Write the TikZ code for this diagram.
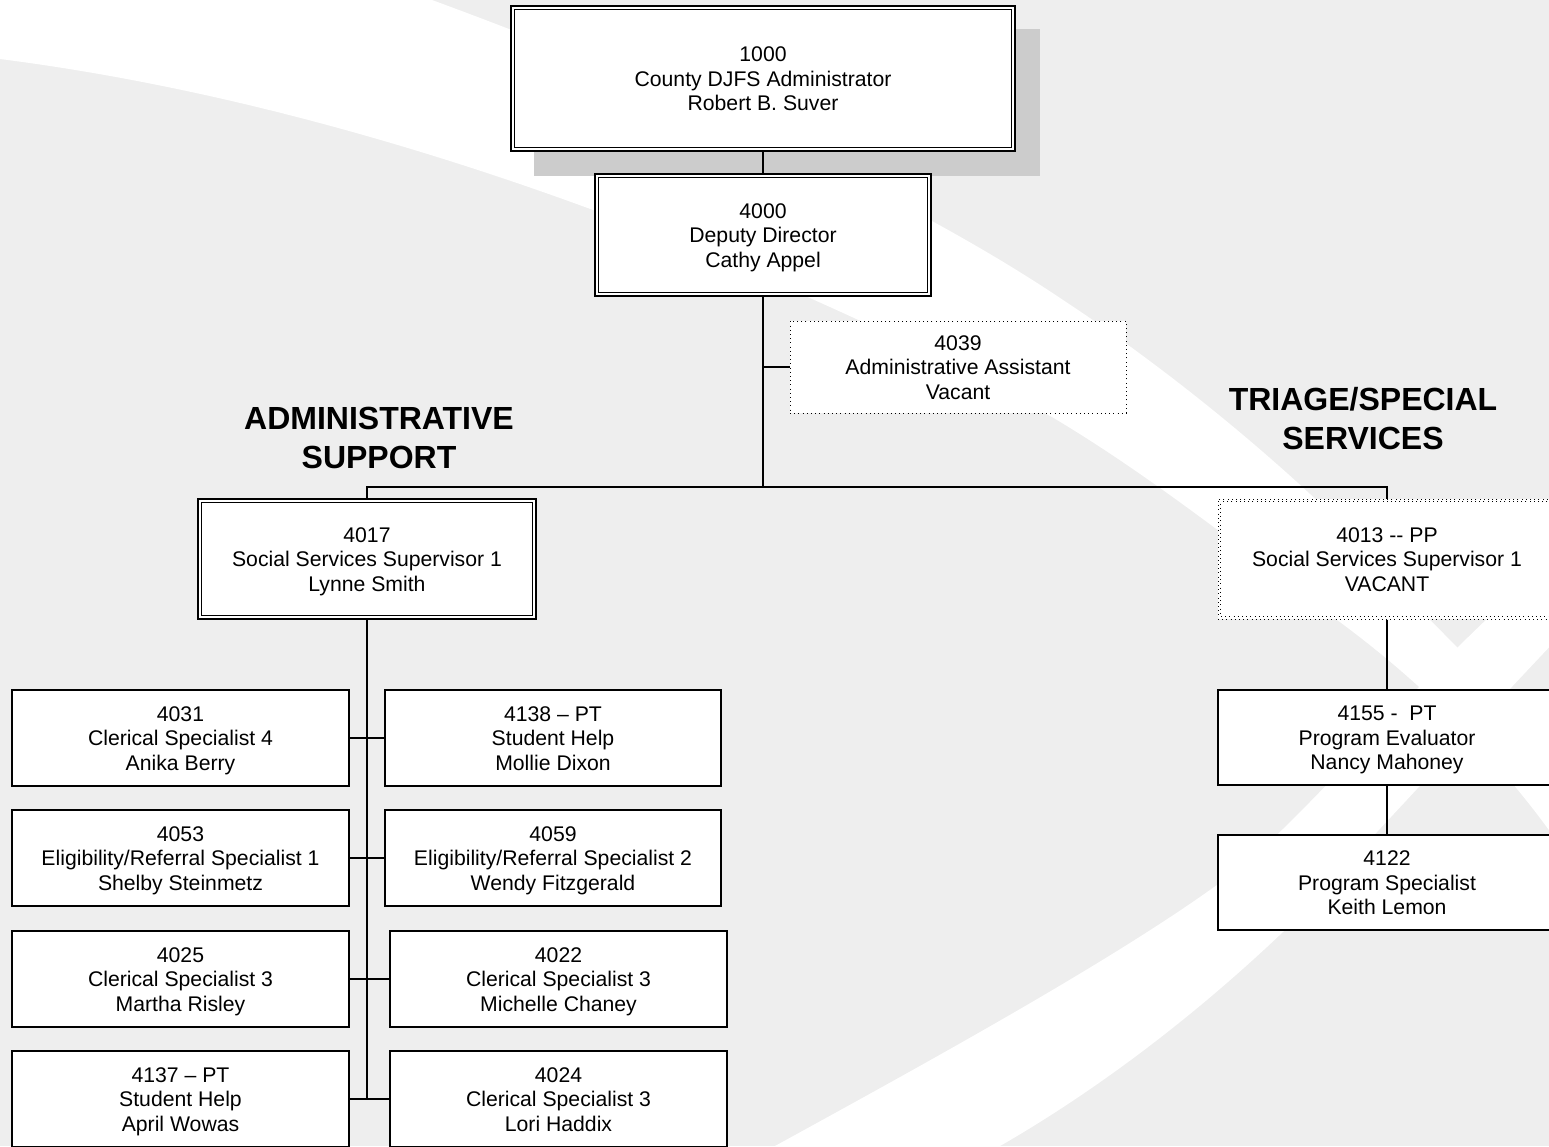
\documentclass[tikz,border=0pt]{standalone}
\usepackage{fontspec}
\setmainfont{Liberation Sans}
\pgfdeclarelayer{bg}
\pgfsetlayers{bg,main}
\definecolor{bggray}{HTML}{EEEEEE}
\definecolor{shadowgray}{HTML}{CCCCCC}
\newcommand\boxfont{\fontsize{21.2pt}{24.5pt}\selectfont}
\newcommand\titlefont{\fontsize{32pt}{39pt}\selectfont\bfseries}
\newcommand\innerframe[1]{\draw[line width=1.2pt] ([shift={(4.5,4.5)}]#1.north west) rectangle ([shift={(-4.5,-4.5)}]#1.south east);}
\newcommand\threelines[3]{\rule{0pt}{20pt}#1\\#2\\#3\rule[-5pt]{0pt}{5pt}}
\tikzset{
  card/.style={draw=black, line width=1.8pt, fill=white, align=center, inner sep=0pt, font=\boxfont},
  dblcard/.style={card, line width=2.2pt},
  dotcard/.style={card, line width=1pt, dash pattern=on 1pt off 3.2pt},
  conn/.style={draw=black, line width=1.7pt},
  title/.style={align=center, inner sep=0pt, font=\titlefont},
}
\begin{document}
\begin{tikzpicture}[x=1pt,y=-1pt]
\useasboundingbox (0,0) rectangle (1549,1146);

% --- nodes ---
\node[dblcard, minimum width=504pt, minimum height=145pt] (n1000) at (763,78.5) {\threelines{1000}{County DJFS Administrator}{Robert B. Suver}};
\innerframe{n1000}
\node[dblcard, minimum width=336pt, minimum height=122pt] (n4000) at (763,235) {\threelines{4000}{Deputy Director}{Cathy Appel}};
\innerframe{n4000}
\node[dotcard, minimum width=336pt, minimum height=92pt] (n4039) at (958,367) {\threelines{4039}{Administrative Assistant}{Vacant}};

\node[title] (tadmin) at (379,437.5) {ADMINISTRATIVE\\SUPPORT};
\node[title] (ttriage) at (1363,419) {TRIAGE/SPECIAL\\SERVICES};

\node[dblcard, minimum width=338pt, minimum height=120pt] (n4017) at (367,559) {\threelines{4017}{Social Services Supervisor 1}{Lynne Smith}};
\innerframe{n4017}
\node[dotcard, minimum width=338pt, minimum height=120pt] (n4013) at (1387,559) {\threelines{4013 -{}- PP}{Social Services Supervisor 1}{VACANT}};
\draw[line width=1pt, dash pattern=on 1pt off 3.2pt, dash phase=2.1pt] ([shift={(3,3)}]n4013.north west) rectangle ([shift={(-3,-3)}]n4013.south east);

\node[card, minimum width=338pt, minimum height=95pt] (n4155) at (1387,737.5) {\threelines{4155 -\ \ PT}{Program Evaluator}{Nancy Mahoney}};
\node[card, minimum width=338pt, minimum height=95pt] (n4122) at (1387,882.5) {\threelines{4122}{Program Specialist}{Keith Lemon}};

\node[card, minimum width=337pt, minimum height=96pt] (n4031) at (180.5,738) {\threelines{4031}{Clerical Specialist 4}{Anika Berry}};
\node[card, minimum width=336pt, minimum height=96pt] (n4138) at (553,738) {\threelines{4138 – PT}{Student Help}{Mollie Dixon}};
\node[card, minimum width=337pt, minimum height=96pt] (n4053) at (180.5,858) {\threelines{4053}{Eligibility/Referral Specialist 1}{Shelby Steinmetz}};
\node[card, minimum width=336pt, minimum height=96pt] (n4059) at (553,858) {\threelines{4059}{Eligibility/Referral Specialist 2}{Wendy Fitzgerald}};
\node[card, minimum width=337pt, minimum height=96pt] (n4025) at (180.5,979) {\threelines{4025}{Clerical Specialist 3}{Martha Risley}};
\node[card, minimum width=337pt, minimum height=96pt] (n4022) at (558.5,979) {\threelines{4022}{Clerical Specialist 3}{Michelle Chaney}};
\node[card, minimum width=337pt, minimum height=96pt] (n4137) at (180.5,1099) {\threelines{4137 – PT}{Student Help}{April Wowas}};
\node[card, minimum width=337pt, minimum height=96pt] (n4024) at (558.5,1099) {\threelines{4024}{Clerical Specialist 3}{Lori Haddix}};

% --- connector points ---
\coordinate (bus) at (763,487);
\coordinate (aa) at (763,367);
\coordinate (spinend) at (367,1099);

% --- connectors ---
\draw[conn] (n1000.south) -- (n4000.north);
\draw[conn] (n4000.south) -- (bus);
\draw[conn] (aa) -- (n4039.west);
\draw[conn] (n4017.north) |- (bus) -| (n4013.north);
\draw[conn] (n4013.south) -- (n4155.north);
\draw[conn] (n4155.south) -- (n4122.north);
\draw[conn] (n4017.south) -- (spinend);
\draw[conn] (n4031.east) -- (n4138.west);
\draw[conn] (n4053.east) -- (n4059.west);
\draw[conn] (n4025.east) -- (n4022.west);
\draw[conn] (n4137.east) -- (n4024.west);

% --- background ---
\begin{pgfonlayer}{bg}
\fill[bggray] (0,0) rectangle (1549,1146);
% upper swoosh
\fill[white] (0,0) -- (432,0)
  .. controls (650,80) and (900,190) .. (1063,300)
  .. controls (1200,390) and (1350,520) .. (1430,620)
  .. controls (1480,670) and (1530,720) .. (1556,760)
  -- (1556,840)
  .. controls (1500,760) and (1420,680) .. (1333,617)
  .. controls (1250,555) and (1150,475) .. (1052,417)
  .. controls (800,280) and (400,110) .. (0,59) -- cycle;
% lower swoosh
\fill[white] (775,1146)
  .. controls (950,1050) and (1150,940) .. (1250,860)
  .. controls (1350,770) and (1450,640) .. (1556,560)
  -- (1556,640)
  .. controls (1480,720) and (1380,830) .. (1284,931)
  .. controls (1180,1030) and (1080,1100) .. (1000,1146) -- cycle;
% shadow of top box
\fill[shadowgray] ([shift={(24,24)}]n1000.north west) rectangle ([shift={(24,24)}]n1000.south east);
\end{pgfonlayer}
\end{tikzpicture}
\end{document}
